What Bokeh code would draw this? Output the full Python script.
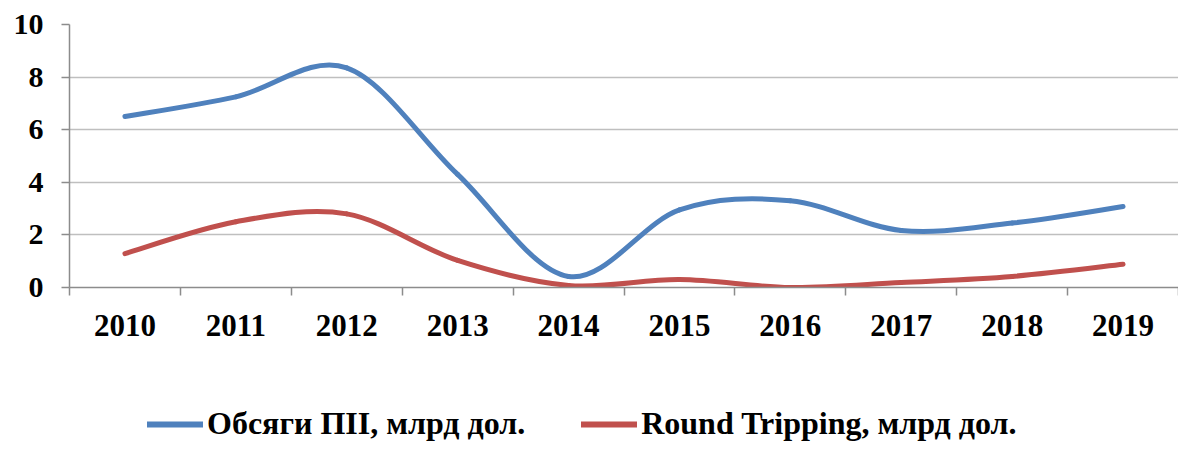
import numpy as np
from bokeh.plotting import figure
from bokeh.layouts import column
from bokeh.models import FixedTicker, Range1d, Legend, LegendItem, ColumnDataSource
from bokeh.embed import file_html
from bokeh.resources import INLINE

years = ["2010", "2011", "2012", "2013", "2014", "2015", "2016", "2017", "2018", "2019"]
fdi = [6.5, 7.25, 8.35, 4.3, 0.42, 2.95, 3.3, 2.17, 2.45, 3.08]
round_trip = [1.29, 2.5, 2.8, 1.03, 0.08, 0.3, 0.0, 0.19, 0.42, 0.88]
y_ticks = [0, 2, 4, 6, 8, 10]
series_names = ["Обсяги ПІІ, млрд дол.", "Round Tripping, млрд дол."]
series_colors = ["#4F81BD", "#C0504D"]

FONT = "Liberation Serif"

p = figure(width=1178, height=380, output_backend="svg", toolbar_location=None,
           x_range=Range1d(0, len(years)), y_range=Range1d(0, 10),
           min_border_left=69, min_border_right=0, min_border_top=24, min_border_bottom=93)
p.outline_line_color = None
p.background_fill_color = "white"


def bezier_source(vals):
    n = len(vals)
    xs = np.arange(n) + 0.5
    ys = np.array(vals, dtype=float)
    xp = np.concatenate([[xs[0]], xs, [xs[-1]]])
    yp = np.concatenate([[ys[0]], ys, [ys[-1]]])
    d = dict(x0=[], y0=[], x1=[], y1=[], cx0=[], cy0=[], cx1=[], cy1=[])
    for i in range(n - 1):
        a, b = i + 1, i + 2
        d["x0"].append(xp[a]); d["y0"].append(yp[a])
        d["x1"].append(xp[b]); d["y1"].append(yp[b])
        d["cx0"].append(xp[a] + (xp[b] - xp[a - 1]) / 6)
        d["cy0"].append(yp[a] + (yp[b] - yp[a - 1]) / 6)
        d["cx1"].append(xp[b] - (xp[b + 1] - xp[a]) / 6)
        d["cy1"].append(yp[b] - (yp[b + 1] - yp[a]) / 6)
    return ColumnDataSource(d)


for vals, col in zip([fdi, round_trip], series_colors):
    p.bezier(x0="x0", y0="y0", x1="x1", y1="y1", cx0="cx0", cy0="cy0", cx1="cx1", cy1="cy1",
             source=bezier_source(vals), line_color=col, line_width=5, line_cap="round")

# axes
p.xgrid.visible = False
p.ygrid.ticker = FixedTicker(ticks=y_ticks)
p.ygrid.grid_line_color = "#BFBFBF"
p.ygrid.grid_line_width = 1.5

p.yaxis.ticker = FixedTicker(ticks=y_ticks)
p.yaxis.axis_line_color = "#8C8C8C"
p.yaxis.axis_line_width = 1.5
p.yaxis.major_tick_line_color = "#8C8C8C"
p.yaxis.major_tick_line_width = 1.5
p.yaxis.major_tick_out = 8
p.yaxis.major_tick_in = 0
p.yaxis.minor_tick_line_color = None
p.yaxis.major_label_standoff = 18
p.yaxis.major_label_text_font = FONT
p.yaxis.major_label_text_font_style = "bold"
p.yaxis.major_label_text_font_size = "30px"
p.yaxis.major_label_text_color = "black"

centers = [i + 0.5 for i in range(len(years))]
p.xaxis.ticker = FixedTicker(ticks=centers, minor_ticks=list(range(len(years) + 1)))
p.xaxis.major_label_overrides = {c: y for c, y in zip(centers, years)}
p.xaxis.axis_line_color = "#8C8C8C"
p.xaxis.axis_line_width = 1.5
p.xaxis.major_tick_line_color = None
p.xaxis.major_tick_out = 0
p.xaxis.major_tick_in = 0
p.xaxis.minor_tick_line_color = "#8C8C8C"
p.xaxis.minor_tick_line_width = 1.5
p.xaxis.minor_tick_out = 8
p.xaxis.minor_tick_in = 0
p.xaxis.major_label_standoff = 19
p.xaxis.major_label_text_font = FONT
p.xaxis.major_label_text_font_style = "bold"
p.xaxis.major_label_text_font_size = "31px"
p.xaxis.major_label_text_color = "black"

# legend strip below the chart
lg = figure(width=1178, height=62, output_backend="svg", toolbar_location=None,
            x_range=Range1d(0, 1), y_range=Range1d(0, 1),
            min_border_left=0, min_border_right=0, min_border_top=0, min_border_bottom=0)
lg.axis.visible = False
lg.grid.visible = False
lg.outline_line_color = None
items = []
for name, col in zip(series_names, series_colors):
    # placeholder renderer (NaN, draws nothing) so the legend has a line sample
    r = lg.line(x=[np.nan], y=[np.nan], line_color=col, line_width=6, line_cap="round")
    items.append(LegendItem(label=name, renderers=[r]))

legend = Legend(items=items, orientation="horizontal", location=(78, 0),
                glyph_width=56, glyph_height=32, label_height=32, label_standoff=4,
                spacing=56, padding=0, margin=0,
                label_text_font=FONT, label_text_font_style="bold", label_text_font_size="32px",
                label_text_color="black", border_line_color=None, background_fill_alpha=0)
lg.add_layout(legend, "center")

open("out.html", "w").write(file_html(column(p, lg), INLINE))
